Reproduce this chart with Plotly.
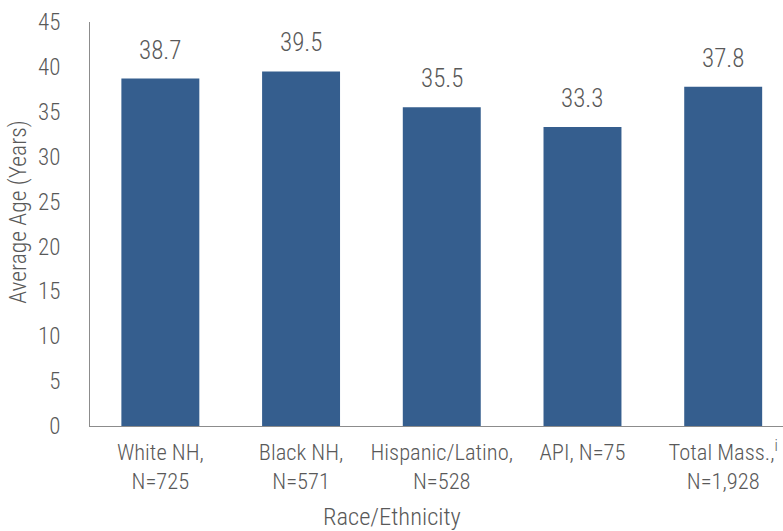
import plotly.graph_objects as go

categories = ["White NH,<br>N=725", "Black NH,<br>N=571", "Hispanic/Latino,<br>N=528",
              "API, N=75", "Total Mass.,<sup>i</sup><br>N=1,928"]
values = [38.7, 39.5, 35.5, 33.3, 37.8]
value_labels = ["38.7", "39.5", "35.5", "33.3", "37.8"]
y_ticks = [0, 5, 10, 15, 20, 25, 30, 35, 40, 45]

FONT = "Roboto Condensed, Liberation Sans, sans-serif"
TXT = "#595959"
BAR = "#355E8E"

fig = go.Figure()
fig.add_trace(go.Bar(
    x=list(range(len(categories))), y=values,
    marker=dict(color=BAR, line=dict(width=0)),
    width=0.554, hoverinfo="skip",
))

for i, (v, lab) in enumerate(zip(values, value_labels)):
    fig.add_annotation(x=i, y=v, text=lab, showarrow=False, yanchor="bottom",
                       yshift=12, font=dict(family=FONT, size=25, color=TXT, weight=300))

fig.add_annotation(xref="paper", yref="paper", x=0.436, y=-0.2245, text="Race/Ethnicity",
                   showarrow=False, xanchor="center", yanchor="middle",
                   font=dict(family=FONT, size=24.5, color=TXT, weight=300))
fig.add_annotation(xref="paper", yref="paper", x=-0.104, y=0.53, text="Average Age (Years)",
                   showarrow=False, textangle=-90, xanchor="center", yanchor="middle",
                   font=dict(family=FONT, size=23.5, color=TXT, weight=300))

fig.update_layout(
    width=783, height=531,
    margin=dict(l=90, r=0, t=22, b=105),
    plot_bgcolor="white", paper_bgcolor="white",
    showlegend=False,
    font=dict(family=FONT, size=23, color=TXT, weight=300),
    xaxis=dict(
        range=[-0.5, 4.425], tickmode="array",
        tickvals=list(range(len(categories))), ticktext=categories,
        showline=True, linecolor="#8c8c8c", linewidth=1,
        ticks="", showgrid=False, zeroline=False,
        ticklabelstandoff=6, tickangle=0,
        tickfont=dict(family=FONT, size=22.5, color=TXT, weight=300),
    ),
    yaxis=dict(
        range=[0, 45], tickmode="array", tickvals=y_ticks,
        showline=True, linecolor="#8c8c8c", linewidth=1,
        ticks="", showgrid=False, zeroline=False,
        ticklabelstandoff=24,
        tickfont=dict(family=FONT, size=23, color=TXT, weight=300),
    ),
)

fig.write_html("out.html")
